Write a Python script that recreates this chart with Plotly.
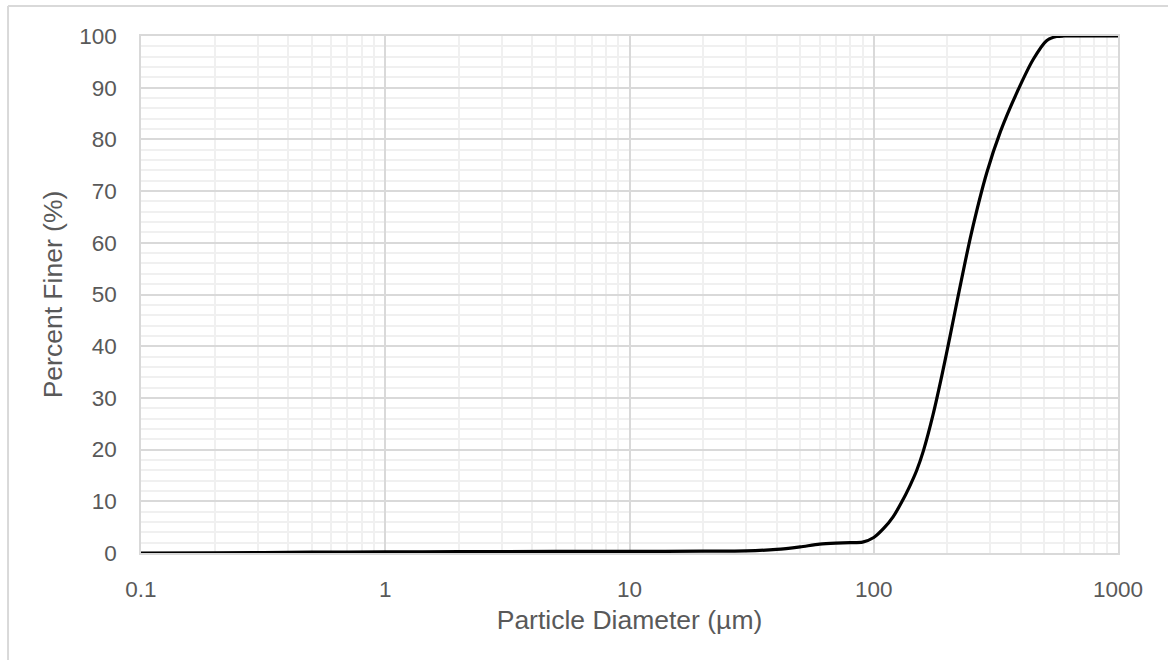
import plotly.graph_objects as go

# Particle size distribution (cumulative percent finer)
diameter_um = [0.1, 0.2, 0.5, 1, 2, 5, 10, 20, 30, 40, 50, 60, 70, 80, 90,
               100, 110, 120, 130, 140, 150, 160, 175, 190, 205, 220, 250,
               290, 330, 385, 450, 510, 560, 600, 700, 1000]
percent_finer = [0.0, 0.05, 0.15, 0.2, 0.25, 0.3, 0.3, 0.35, 0.4, 0.7, 1.2,
                 1.7, 1.9, 2.0, 2.1, 3.0, 4.8, 7.0, 9.8, 12.8, 16.0, 19.9,
                 26.8, 34.3, 41.8, 49.0, 61.5, 73.5, 81.5, 89.0, 95.5, 99.1,
                 99.9, 100.0, 100.0, 100.0]

x_tick_vals = [0.1, 1, 10, 100, 1000]
x_tick_text = ["0.1", "1", "10", "100", "1000"]
y_tick_vals = [0, 10, 20, 30, 40, 50, 60, 70, 80, 90, 100]

FONT = "Liberation Sans, Arial, sans-serif"
TEXT = "#595959"
MAJOR = "#d9d9d9"
MINOR = "#f0f0f0"

fig = go.Figure()
fig.add_trace(go.Scatter(
    x=diameter_um, y=percent_finer, mode="lines",
    line=dict(color="#000000", width=3.2, shape="spline", smoothing=0.7),
    cliponaxis=False, showlegend=False,
))

fig.update_layout(
    width=1168, height=660,
    margin=dict(l=141, r=50, t=36, b=107),
    paper_bgcolor="white", plot_bgcolor="white",
    font=dict(family=FONT, color=TEXT),
    xaxis=dict(
        type="log", range=[-1, 3],
        tickvals=x_tick_vals, ticktext=x_tick_text,
        tickfont=dict(size=22.5, color=TEXT),
        ticks="outside", ticklen=15, tickcolor="rgba(0,0,0,0)",
        showgrid=True, gridcolor=MAJOR, gridwidth=1.5,
        minor=dict(dtick="D1", showgrid=True, gridcolor=MINOR, gridwidth=2,
                   ticks=""),
        showline=True, linecolor=MAJOR, linewidth=1.5, mirror=True,
        zeroline=False,
        title=dict(text="Particle Diameter (µm)", font=dict(size=26.5, color=TEXT),
                   standoff=10),
    ),
    yaxis=dict(
        range=[0, 100], tickvals=y_tick_vals,
        tickfont=dict(size=22.5, color=TEXT),
        ticks="outside", ticklen=18, tickcolor="rgba(0,0,0,0)",
        showgrid=True, gridcolor=MAJOR, gridwidth=1.5,
        minor=dict(dtick=2, showgrid=True, gridcolor=MINOR, gridwidth=2,
                   ticks=""),
        showline=True, linecolor=MAJOR, linewidth=1.5, mirror=True,
        zeroline=False,
        title=dict(text="Percent Finer (%)", font=dict(size=26.5, color=TEXT),
                   standoff=9),
    ),
    shapes=[
        # chart frame (left and top edges)
        dict(type="line", xref="paper", yref="paper",
             x0=-0.1361, x1=-0.1361, y0=-0.3, y1=1.058,
             line=dict(color=MAJOR, width=2)),
        dict(type="line", xref="paper", yref="paper",
             x0=-0.1361, x1=1.2, y0=1.058, y1=1.058,
             line=dict(color=MAJOR, width=2)),
    ],
)

fig.write_html("out.html")
